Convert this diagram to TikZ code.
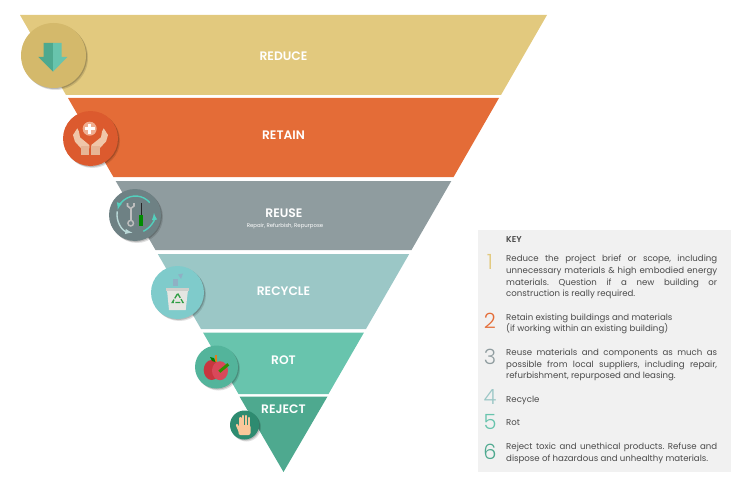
\documentclass[tikz,border=0pt]{standalone}
\usepackage{fontspec}
\setmainfont{Poppins}
\newfontfamily\labelfont{Poppins SemiBold}
\newfontfamily\numfont{Poppins Light}
\usetikzlibrary{shadows}
\definecolor{reducecol}{HTML}{E2C97E}
\definecolor{retaincol}{HTML}{E46C37}
\definecolor{reusecol}{HTML}{8F9C9F}
\definecolor{recyclecol}{HTML}{9BC7C6}
\definecolor{rotcol}{HTML}{68C4AD}
\definecolor{rejectcol}{HTML}{4EA98F}
\definecolor{reducedark}{HTML}{D4B96B}
\definecolor{retaindark}{HTML}{DC5A2E}
\definecolor{reusedark}{HTML}{6E8184}
\definecolor{recyclelight}{HTML}{7FCBCB}
\definecolor{rotdark}{HTML}{53B49B}
\definecolor{rejectdark}{HTML}{2E8B70}
\definecolor{keycol}{HTML}{F1F1F1}
\definecolor{keytext}{HTML}{4A4A4A}
\definecolor{skincol}{HTML}{F0C6A8}
\definecolor{skindark}{HTML}{E6B595}
\definecolor{palmcol}{HTML}{FBC79A}
\definecolor{bincol}{HTML}{E6E6E2}
\definecolor{bitcol}{HTML}{8FB0C4}
\definecolor{binleaf}{HTML}{2F9E44}
\definecolor{applecol}{HTML}{C8363F}
\definecolor{applelight}{HTML}{D9485A}
\begin{document}
\begin{tikzpicture}[
  x=1pt,y=-1pt,
  band/.style={white,font=\fontsize{12.3}{14}\labelfont},
  subband/.style={white,font=\fontsize{5.4}{6}\selectfont},
  badge/.style={circle,inner sep=0pt,minimum size=#1,
    drop shadow={shadow xshift=2pt,shadow yshift=-2pt,opacity=.12,fill=black},
    drop shadow={shadow xshift=1pt,shadow yshift=-1pt,opacity=.18,fill=black}},
  keynum/.style={font=\fontsize{21}{22}\numfont,anchor=center},
  keyline/.style={anchor=west,text=keytext,text width=211pt,align=justify,inner sep=0pt,
    font=\fontsize{8.6}{11.7}\selectfont\frenchspacing},
  cycle/.style={line width=1.4pt,-latex}
]
  \useasboundingbox (0,0) rectangle (750,487);

  % funnel
  \fill[reducecol] (20,15) -- (547,15) -- (501,95) -- (66,95) -- cycle;
  \fill[retaincol] (68,98) -- (499,98) -- (453.6,177) -- (113.4,177) -- cycle;
  \fill[reusecol] (115.7,181) -- (451.3,181) -- (411.5,250) -- (155.5,250) -- cycle;
  \fill[recyclecol] (157.8,254) -- (409.2,254) -- (366,329) -- (201,329) -- cycle;
  \fill[rotcol] (203,332.5) -- (364,332.5) -- (328.5,394) -- (238.5,394) -- cycle;
  \fill[rejectcol] (239.5,396.5) -- (327.5,396.5) -- (283.5,472) -- cycle;

  \node[band] (reduce) at (283.5,56.5) {REDUCE};
  \node[band] (retain) at (283.5,135.5) {RETAIN};
  \node[band] (reuse) at (284,213) {REUSE};
  \node[subband] (reusesub) at (285,226) {Repair, Refurbish, Repurpose};
  \node[band] (recycle) at (283.5,291.5) {RECYCLE};
  \node[band] (rot) at (283.5,360.5) {ROT};
  \node[band] (reject) at (283.5,409.5) {REJECT};

  % badges
  \node[badge=65pt,fill=reducedark] (reduceicon) at (53.5,55.5) {};
  \node[badge=55pt,fill=retaindark] (retainicon) at (90.5,138.5) {};
  \node[badge=52pt,fill=reusedark] (reuseicon) at (135,215) {};
  \node[badge=53pt,fill=recyclelight] (recycleicon) at (177.5,292.5) {};
  \node[badge=43pt,fill=rotdark] (roticon) at (216.5,367) {};
  \node[badge=29pt,fill=rejectdark] (rejecticon) at (244.5,425) {};

  % arrow
  \fill[rejectcol] (43.7,43) -- (53,43) -- (53,71.7) -- (38.3,57) -- (43.7,57) -- cycle;
  \fill[rotcol] (53,43) -- (61.7,43) -- (61.7,57) -- (67.3,57) -- (53,71.7) -- cycle;

  % hands
  \fill[skincol] (77.3,128.3) -- (73,135) -- (75,141.7) -- (81,148.3) -- (89.3,148.3)
    -- (89.3,145) -- (80,137.3) -- (79,131.7) -- cycle;
  \fill[skincol] (103.7,128.3) -- (108,135) -- (106,141.7) -- (99.5,148.3) -- (91.3,148.3)
    -- (91.3,145) -- (101,137.3) -- (102,131.7) -- cycle;
  \fill[skindark] (81,146) rectangle (89.3,155);
  \fill[skindark] (91.3,146) rectangle (99.5,155);
  \fill[retaincol!55!white] (89.7,128.7) circle (7);
  \fill[white] (88.4,123.8) rectangle (91,133.6);
  \fill[white] (84.8,127.4) rectangle (94.6,130);

  % tools
  \draw[cycle,recyclecol!70!white] (135.5,214.5) ++(190:18.5) arc[start angle=190,end angle=100,radius=18.5];
  \draw[cycle,rotcol!80!cyan] (135.5,214.5) ++(65:18.5) arc[start angle=65,end angle=-5,radius=18.5];
  \draw[cycle,rotcol!80!cyan] (135.5,214.5) ++(-40:18.5) arc[start angle=-40,end angle=-165,radius=18.5];
  \draw[gray!50,line width=2pt] (130.7,208) -- (130.7,221);
  \draw[gray!50,line width=1.4pt] (130.7,223.2) circle (2.8);
  \draw[gray!50,line width=1.6pt] (127.5,203) -- (127.5,206) -- (130.7,208.5) -- (134,206) -- (134,203);
  \draw[gray!30!black,line width=1pt] (141.3,203) -- (141.3,215);
  \fill[green!55!black] (139.2,215) rectangle (143.4,226);

  % bin
  \fill[bincol] (167,290) -- (188,290) -- (185.7,310) -- (169,310) -- cycle;
  \fill[bincol!90!black] (166,287.7) rectangle (189,290.7);
  \draw[binleaf,line width=1.3pt,dash pattern=on 5pt off 1.5pt] (177.7,293.5) -- (183,302.5) -- (172.3,302.5) -- cycle;
  \fill[bitcol] (172.5,279) rectangle (177.5,286);
  \fill[bitcol] (178,274.5) -- (183,273.5) -- (181,279) -- cycle;

  % apple
  \fill[applecol] (211.7,370) ellipse (8 and 10);
  \fill[applelight] (220,370.7) ellipse (8 and 9.5);
  \draw[orange!50!brown,line width=2pt] (216.4,355) -- (216.4,362);
  \fill[green!50!black] (210,357) -- (214,358) -- (215.5,362) -- (212,361) -- cycle;
  \draw[green!45!black!80!yellow,line width=3pt] (219.3,371.7) -- (228.3,364.3);

  % hand
  \fill[palmcol,rounded corners=2pt] (238.5,425) rectangle (250.5,435);
  \draw[palmcol,line width=2.3pt,line cap=round] (240.5,427) -- (240.5,418);
  \draw[palmcol,line width=2.3pt,line cap=round] (243.3,427) -- (243.3,416);
  \draw[palmcol,line width=2.3pt,line cap=round] (246,427) -- (246,416);
  \draw[palmcol,line width=2.3pt,line cap=round] (248.8,427) -- (248.8,418);
  \draw[palmcol,line width=2.3pt,line cap=round] (240,432) -- (237,425);

  % key
  \fill[keycol] (478,230) rectangle (730.7,471.7);
  \node[anchor=west,inner sep=0pt,text=keytext,font=\fontsize{8.5}{9}\labelfont] (keyhead) at (506,239.5) {KEY};

  \node[keynum,text=reducecol] (num1) at (490,262) {1};
  \node[keynum,text=retaincol] (num2) at (490,321) {2};
  \node[keynum,text=reusecol] (num3) at (490,357) {3};
  \node[keynum,text=recyclecol] (num4) at (490,397) {4};
  \node[keynum,text=rotcol] (num5) at (490,422) {5};
  \node[keynum,text=rejectcol] (num6) at (490,452) {6};

  \node[keyline] (key1) at (506,277) {Reduce the project brief or scope, including\linebreak unnecessary materials \& high embodied energy\linebreak materials. Question if a new building or\linebreak construction is really required.};
  \node[keyline] (key2) at (506,324) {Retain existing buildings and materials\\(if working within an existing building)};
  \node[keyline] (key3) at (506,365) {Reuse materials and components as much as\linebreak possible from local suppliers, including repair,\linebreak refurbishment, repurposed and leasing.};
  \node[keyline] (key4) at (506,400) {Recycle};
  \node[keyline] (key5) at (506,423) {Rot};
  \node[keyline] (key6) at (506,453) {Reject toxic and unethical products. Refuse and\linebreak dispose of hazardous and unhealthy materials.};
\end{tikzpicture}
\end{document}
